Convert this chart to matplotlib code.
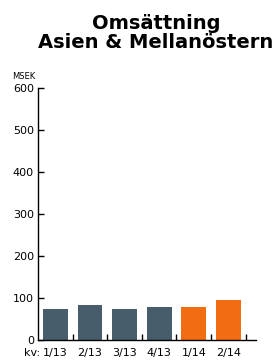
import matplotlib
matplotlib.use("Agg")
import matplotlib.pyplot as plt

# data
quarters = ["1/13", "2/13", "3/13", "4/13", "1/14", "2/14"]
sales = [74, 83, 74, 79, 79, 95]
bar_colors = ["#475d6b"] * 4 + ["#f26c12"] * 2
y_ticks = [0, 100, 200, 300, 400, 500, 600]

plt.rcParams['font.family'] = ['DejaVu Sans']

fig = plt.figure(figsize=(2.78, 3.6), dpi=100)
ax = fig.add_axes([0.137, 0.0556, 0.784, 0.7])

x = list(range(len(quarters)))
ax.bar(x, sales, width=0.72, color=bar_colors, zorder=2)

ax.set_xlim(-0.5, 5.8)
ax.set_ylim(0, 600)
ax.set_yticks(y_ticks)
ax.tick_params(axis='y', direction='in', length=4, width=1, labelsize=8, pad=3)
ax.set_xticks(x)
ax.set_xticklabels(quarters)
ax.tick_params(axis='x', length=0, labelsize=8, pad=6)
ax.set_xticks([i + 0.5 for i in x], minor=True)
ax.tick_params(axis='x', which='minor', direction='in', length=4, width=1)

for s in ['top', 'right']:
    ax.spines[s].set_visible(False)
for s in ['left', 'bottom']:
    ax.spines[s].set_linewidth(1)

fig.text(0.088, 0.0325, "kv:", fontsize=8, ha='left', va='top')
fig.text(0.043, 0.78, "MSEK", fontsize=6, ha='left', va='baseline')
fig.text(0.561, 0.919, "Omsättning", fontsize=14,
         fontweight='bold', ha='center', va='baseline')
fig.text(0.561, 0.867, "Asien & Mellanöstern", fontsize=14,
         fontweight='bold', ha='center', va='baseline')

fig.savefig("out.png", dpi=100)
